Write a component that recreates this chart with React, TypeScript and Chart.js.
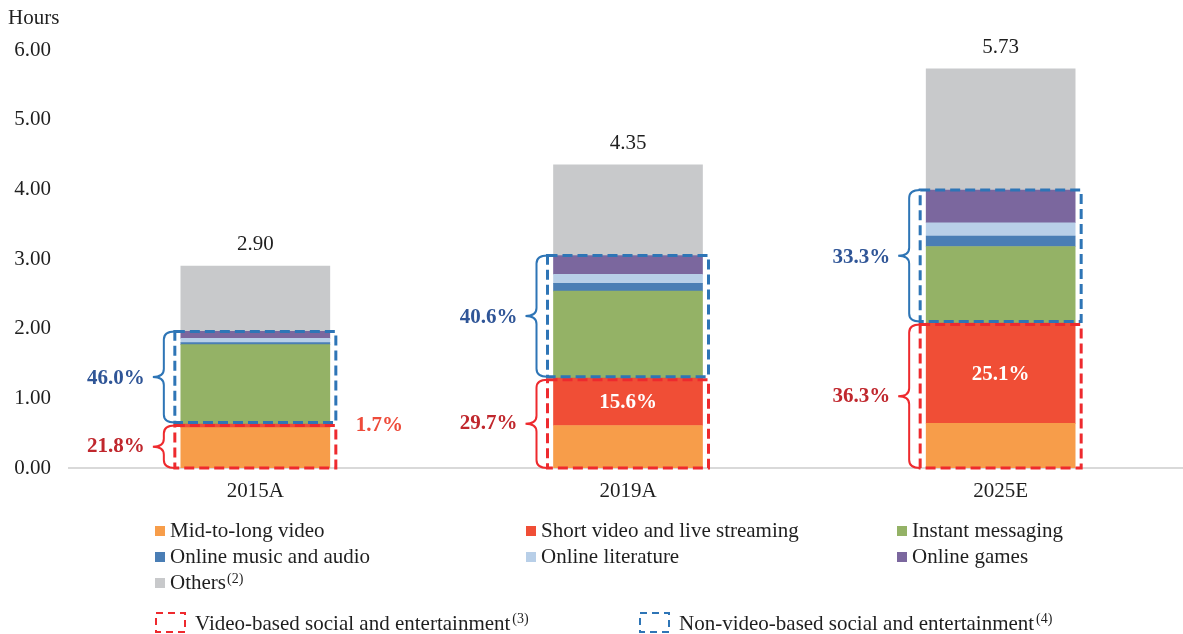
import React, { useEffect, useRef } from "react";
import { Chart, registerables } from "chart.js";

Chart.register(...registerables);

// ---------- data ----------
const categories = ["2015A", "2019A", "2025E"];
const seriesLabels = [
  "Mid-to-long video",
  "Short video and live streaming",
  "Instant messaging",
  "Online music and audio",
  "Online literature",
  "Online games",
  "Others",
];
const midToLongVideo = [0.58, 0.61, 0.64];
const shortVideo = [0.05, 0.68, 1.44];
const instantMessaging = [1.14, 1.25, 1.1];
const onlineMusic = [0.03, 0.11, 0.15];
const onlineLiterature = [0.06, 0.13, 0.19];
const onlineGames = [0.1, 0.27, 0.47];
const others = [0.94, 1.3, 1.74];
const totalLabels = ["2.90", "4.35", "5.73"];
const videoShare = ["21.8%", "29.7%", "36.3%"];
const nonVideoShare = ["46.0%", "40.6%", "33.3%"];
const shortVideoShare = ["1.7%", "15.6%", "25.1%"];
const legendSuperscripts = ["", "", "", "", "", "", "(2)"];
const groupLabels = ["Video-based social and entertainment", "Non-video-based social and entertainment"];
const groupSuperscripts = ["(3)", "(4)"];
const yAxisTitle = "Hours";

// ---------- styles ----------
const seriesColors = ["#F79D4A", "#F04E36", "#94B266", "#4A7EB5", "#B8CFE8", "#7B679E", "#C8C9CB"];
const FONT = '"Liberation Serif", "Times New Roman", serif';
const TEXT = "#1f1f1f";
const RED_DASH = "#EE2A2E";
const BLUE_DASH = "#2E75B6";
const RED_TEXT = "#C0272D";
const BLUE_TEXT = "#2F5597";
const OUT_RED = "#EE4B3A";

const W = 1187;
const H = 634;

function drawBrace(ctx: CanvasRenderingContext2D, xEnd: number, yTop: number, yBot: number) {
  const xMid = xEnd - 11;
  const xTip = xEnd - 22;
  const ym = (yTop + yBot) / 2;
  const r = Math.min(8, (yBot - yTop) / 4);
  ctx.beginPath();
  ctx.moveTo(xEnd, yTop);
  ctx.quadraticCurveTo(xMid, yTop, xMid, yTop + r);
  ctx.lineTo(xMid, ym - r);
  ctx.quadraticCurveTo(xMid, ym, xTip, ym);
  ctx.quadraticCurveTo(xMid, ym, xMid, ym + r);
  ctx.lineTo(xMid, yBot - r);
  ctx.quadraticCurveTo(xMid, yBot, xEnd, yBot);
  ctx.stroke();
}

const overlayPlugin = {
  id: "overlay",
  afterDatasetsDraw(chart: any) {
    const ctx: CanvasRenderingContext2D = chart.ctx;
    const y = chart.scales.y;
    const meta = chart.getDatasetMeta(0);
    ctx.save();
    categories.forEach((_, i) => {
      const bar = meta.data[i];
      const half = bar.width / 2;
      const left = bar.x - half - 6;
      const right = bar.x + half + 6;
      const v1 = midToLongVideo[i] + shortVideo[i];
      const v2 = v1 + instantMessaging[i] + onlineMusic[i] + onlineLiterature[i] + onlineGames[i];
      const total = v2 + others[i];
      const y0 = y.getPixelForValue(0);
      const yMid = y.getPixelForValue(midToLongVideo[i]);
      const y1 = y.getPixelForValue(v1);
      const y2 = y.getPixelForValue(v2);
      const yt = y.getPixelForValue(total);

      // totals
      ctx.font = `21px ${FONT}`;
      ctx.fillStyle = TEXT;
      ctx.textAlign = "center";
      ctx.textBaseline = "alphabetic";
      ctx.fillText(totalLabels[i], bar.x, yt - 15.5);

      // short video label
      ctx.font = `bold 21px ${FONT}`;
      if (yMid - y1 < 24) {
        ctx.fillStyle = OUT_RED;
        ctx.textAlign = "left";
        ctx.textBaseline = "middle";
        ctx.fillText(shortVideoShare[i], right + 20, y1 + 1);
      } else {
        ctx.fillStyle = "#FFFFFF";
        ctx.textAlign = "center";
        ctx.textBaseline = "middle";
        ctx.fillText(shortVideoShare[i], bar.x, (y1 + yMid) / 2 + 1);
      }

      // dashed boxes
      ctx.lineWidth = 3;
      ctx.setLineDash([10, 5]);
      ctx.strokeStyle = RED_DASH;
      ctx.strokeRect(left, y1 + 1.5, right - left, y0 - y1 - 1.5);
      ctx.strokeStyle = BLUE_DASH;
      ctx.strokeRect(left, y2, right - left, y1 - 1.5 - y2);
      ctx.setLineDash([]);

      // braces
      ctx.lineWidth = 2;
      ctx.strokeStyle = BLUE_DASH;
      drawBrace(ctx, left, y2, y1 - 1.5);
      ctx.strokeStyle = RED_DASH;
      drawBrace(ctx, left, y1 + 1.5, y0);

      // brace labels
      ctx.font = `bold 21px ${FONT}`;
      ctx.textAlign = "right";
      ctx.textBaseline = "middle";
      ctx.fillStyle = BLUE_TEXT;
      ctx.fillText(nonVideoShare[i], left - 30, (y2 + y1) / 2 + 1);
      ctx.fillStyle = RED_TEXT;
      ctx.fillText(videoShare[i], left - 30, (y1 + y0) / 2 + 1);
    });
    ctx.restore();
  },
  afterDraw(chart: any) {
    const ctx: CanvasRenderingContext2D = chart.ctx;
    ctx.save();
    ctx.fillStyle = TEXT;
    ctx.font = `21px ${FONT}`;
    ctx.textAlign = "left";
    ctx.textBaseline = "alphabetic";
    ctx.fillText(yAxisTitle, 8, 24);

    // legend grid
    const colX = [155, 526, 897];
    const rowBase = [537, 563, 589];
    seriesLabels.forEach((label, k) => {
      const col = k % 3;
      const row = Math.floor(k / 3);
      const x = colX[col];
      const b = rowBase[row];
      ctx.fillStyle = seriesColors[k];
      ctx.fillRect(x, b - 11, 10, 10);
      ctx.fillStyle = TEXT;
      ctx.font = `21px ${FONT}`;
      ctx.fillText(label, x + 15, b);
      if (legendSuperscripts[k]) {
        const w = ctx.measureText(label).width;
        ctx.font = `14px ${FONT}`;
        ctx.fillText(legendSuperscripts[k], x + 15 + w + 1, b - 6);
      }
    });

    // dashed group legend
    const gx = [155, 639];
    const gColors = [RED_DASH, BLUE_DASH];
    groupLabels.forEach((label, k) => {
      const x = gx[k];
      ctx.lineWidth = 2;
      ctx.setLineDash([7, 5]);
      ctx.strokeStyle = gColors[k];
      ctx.strokeRect(x + 1, 613, 29, 19);
      ctx.setLineDash([]);
      ctx.fillStyle = TEXT;
      ctx.font = `21px ${FONT}`;
      ctx.fillText(label, x + 40, 630);
      const w = ctx.measureText(label).width;
      ctx.font = `14px ${FONT}`;
      ctx.fillText(groupSuperscripts[k], x + 40 + w + 2, 623);
    });
    ctx.restore();
  },
};

export default function App() {
  const ref = useRef<HTMLCanvasElement | null>(null);

  useEffect(() => {
    if (!ref.current) return;
    const dataArrays = [midToLongVideo, shortVideo, instantMessaging, onlineMusic, onlineLiterature, onlineGames, others];
    const chart = new Chart(ref.current, {
      type: "bar",
      data: {
        labels: categories,
        datasets: dataArrays.map((d, k) => ({
          label: seriesLabels[k],
          data: d,
          backgroundColor: seriesColors[k],
          borderWidth: 0,
          barThickness: 149,
        })),
      },
      options: {
        responsive: false,
        animation: false,
        devicePixelRatio: 1,
        layout: { padding: { top: 50, left: 0, right: 0, bottom: 0 } },
        plugins: {
          legend: { display: false },
          tooltip: { enabled: false },
        },
        scales: {
          x: {
            stacked: true,
            grid: { display: false, drawTicks: false },
            border: { display: true, color: "#D9D9D9", width: 2 },
            ticks: { font: { family: FONT, size: 21 }, color: TEXT, padding: 11 },
            afterFit: (s: any) => {
              s.height = H - 468;
            },
          },
          y: {
            stacked: true,
            min: 0,
            max: 6,
            grid: { display: false, drawTicks: false },
            border: { display: false },
            ticks: {
              stepSize: 1,
              padding: 18,
              font: { family: FONT, size: 21 },
              color: TEXT,
              callback: (v: any) => Number(v).toFixed(2),
            },
            afterFit: (s: any) => {
              s.width = 69;
            },
          },
        },
      },
      plugins: [overlayPlugin],
    });
    return () => chart.destroy();
  }, []);

  return (
    <div style={{ position: "fixed", left: 0, top: 0, width: 1183, height: 634, overflow: "hidden", background: "#fff" }}>
      <canvas ref={ref} width={W} height={H} style={{ display: "block", width: W, height: H }} />
    </div>
  );
}
